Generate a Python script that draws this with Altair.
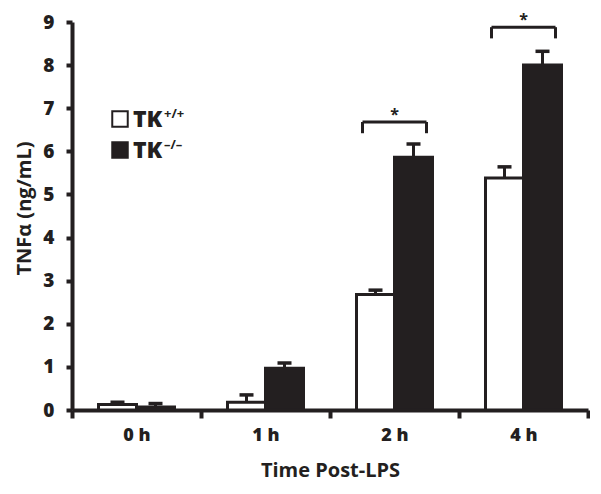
import json
import altair as alt
import pandas as pd

# ---- data ----
times = ["0 h", "1 h", "2 h", "4 h"]
groups = ["TK+/+", "TK–/–"]
wt_mean = [0.13, 0.18, 2.68, 5.38]
wt_err = [0.05, 0.17, 0.10, 0.26]
ko_mean = [0.07, 0.97, 5.86, 8.00]
ko_err = [0.08, 0.12, 0.31, 0.32]
sig_times = ["2 h", "4 h"]
sig_level = [6.68, 8.88]
legend_sup = ["+/+", "–/–"]

FONT = "Open Sans"
INK = "#231f20"
BW = 38 / 129.0      # bar width in category units
CAP = 7 / 129.0      # half cap width
BR = 32 / 129.0      # half bracket width
LEG = 0.26           # bracket leg length (data units)

rows = []
for i, t in enumerate(times):
    for g, m, e in ((groups[0], wt_mean[i], wt_err[i]), (groups[1], ko_mean[i], ko_err[i])):
        left = i + 0.5 - BW if g == groups[0] else i + 0.5
        rows.append(dict(time=t, group=g, value=m, top=m + e,
                         x0=left, x1=left + BW, xc=left + BW / 2,
                         cl=left + BW / 2 - CAP, cr=left + BW / 2 + CAP))
bars = pd.DataFrame(rows)

sig = pd.DataFrame(dict(time=sig_times, level=sig_level))
sig["xc"] = [times.index(t) + 0.5 for t in sig_times]
sig["bl"] = sig["xc"] - BR
sig["br"] = sig["xc"] + BR
sig["leg"] = sig["level"] - LEG
legs = pd.concat([sig.assign(xl=sig["bl"]), sig.assign(xl=sig["br"])])

label_expr = ("datum.value % 1 === 0.5 ? " + json.dumps(times) +
              "[floor(datum.value)] : ''")

xscale = alt.Scale(domain=[0, 4], nice=False, zero=False)
yscale = alt.Scale(domain=[0, 9], nice=False)

xaxis = alt.Axis(values=[0, 0.5, 1, 1.5, 2, 2.5, 3, 3.5, 4], labelExpr=label_expr,
                 tickOpacity={"condition": {"test": "datum.value % 1 === 0", "value": 1}, "value": 0},
                 title="Time Post-LPS", grid=False, domainWidth=4, domainColor=INK,
                 tickWidth=4, tickSize=8, tickColor=INK,
                 labelFont=FONT, labelFontSize=18, labelFontWeight=800, labelColor=INK,
                 labelPadding=8, labelOverlap=False, labelFlush=False,
                 titleFont=FONT, titleFontSize=20, titleFontWeight="bold", titleColor=INK,
                 titlePadding=16)
yaxis = alt.Axis(values=list(range(10)), title="TNFα (ng/mL)", grid=False,
                 domainWidth=4, domainColor=INK, tickWidth=4, tickSize=6, tickColor=INK,
                 labelFont=FONT, labelFontSize=19, labelFontWeight=800, labelColor=INK,
                 labelPadding=12,
                 titleFont=FONT, titleFontSize=20, titleFontWeight="bold", titleColor=INK,
                 titlePadding=8, titleY=186)

base = alt.Chart(bars)
bar_layer = base.mark_rect(stroke=INK, strokeWidth=3).encode(
    x=alt.X("x0:Q", scale=xscale, axis=xaxis),
    x2="x1:Q",
    y=alt.Y("value:Q", scale=yscale, axis=yaxis),
    y2=alt.datum(0),
    fill=alt.Fill("group:N", scale=alt.Scale(domain=groups, range=["white", INK]), legend=None),
)
err_layer = base.mark_rule(color=INK, strokeWidth=3).encode(
    x="xc:Q", y="value:Q", y2="top:Q")
cap_layer = base.mark_rule(color=INK, strokeWidth=3.5).encode(
    x="cl:Q", x2="cr:Q", y="top:Q")

sbase = alt.Chart(sig)
br_layer = sbase.mark_rule(color=INK, strokeWidth=3).encode(
    x="bl:Q", x2="br:Q", y="level:Q")
leg_layer = alt.Chart(legs).mark_rule(color=INK, strokeWidth=3).encode(
    x="xl:Q", y="leg:Q", y2="level:Q")
star_layer = sbase.mark_text(text="*", font=FONT, fontSize=16, fontWeight="bold",
                             color=INK, baseline="alphabetic", dy=-2).encode(
    x="xc:Q", y="level:Q")

# ---- hand-built legend with superscripts ----
leg_items = []
for k, (g, sup) in enumerate(zip(groups, legend_sup)):
    yy = 97 + k * 31
    d = alt.Chart(pd.DataFrame({"g": [g], "tk": ["TK"], "sup": [sup]}))
    leg_items.append(d.mark_square(size=240, strokeWidth=2, stroke=INK, opacity=1).encode(
        x=alt.value(48), y=alt.value(yy),
        fill=alt.Fill("g:N", scale=alt.Scale(domain=groups, range=["white", INK]), legend=None)))
    leg_items.append(d.mark_text(font=FONT, fontSize=23, fontWeight=800, color=INK,
                                 align="left", baseline="alphabetic").encode(
        x=alt.value(61), y=alt.value(yy + 8), text="tk:N"))
    leg_items.append(d.mark_text(font=FONT, fontSize=13, fontWeight="bold", color=INK,
                                 align="left", baseline="alphabetic").encode(
        x=alt.value(92), y=alt.value(yy - 1), text="sup:N"))

chart = alt.layer(bar_layer, err_layer, cap_layer, br_layer, leg_layer, star_layer,
                  *leg_items).properties(
    width=516, height=388,
    padding={"left": 64, "top": 14, "right": 2, "bottom": 76},
    autosize="none",
).configure_view(stroke=None)

chart.save("out.html", embed_options={"renderer": "svg", "actions": False})
